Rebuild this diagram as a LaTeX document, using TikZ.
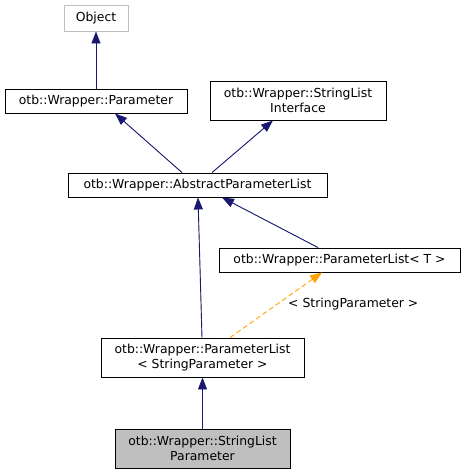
\documentclass[tikz,border=0pt]{standalone}
\usepackage{fontspec}
\setmainfont{DejaVu Sans}
\usetikzlibrary{arrows.meta}
\definecolor{edgeblue}{HTML}{191970}
\definecolor{edgeorange}{HTML}{FFA500}
\definecolor{grayfill}{HTML}{BFBFBF}
\begin{document}
\begin{tikzpicture}[x=1pt,y=-1pt,
  box/.style={draw=black, line width=0.9pt, fill=white, inner sep=0pt, align=center,
    font=\fontsize{12.4}{14.5}\selectfont},
  inh/.style={draw=edgeblue, line width=0.9pt, {Triangle[length=12pt,width=9pt]}-, fill=edgeblue},
  tmpl/.style={draw=edgeorange, line width=0.9pt, dash pattern=on 5pt off 3pt,
    {Triangle[length=12pt,width=9pt,fill=edgeorange]}-},
  lbl/.style={font=\fontsize{12.4}{14.5}\selectfont, inner sep=0pt}]
\useasboundingbox (0,0) rectangle (467,475);
\node[box, draw=grayfill, minimum width=64pt, minimum height=26pt] (obj) at (96,18) {Object};
\node[box, minimum width=182pt, minimum height=24pt] (par) at (96,101) {otb::Wrapper::Parameter};
\node[box, minimum width=176pt, minimum height=39pt] (sli) at (298,100.5) {otb::Wrapper::StringList\\Interface};
\node[box, minimum width=259pt, minimum height=24pt] (abs) at (197.5,185) {otb::Wrapper::AbstractParameterList};
\node[box, minimum width=241pt, minimum height=24pt] (plt) at (339.5,260) {otb::Wrapper::ParameterList< T >};
\node[box, minimum width=203pt, minimum height=39pt] (plsp) at (202.5,357.5) {otb::Wrapper::ParameterList\\< StringParameter >};
\node[box, fill=grayfill, minimum width=175pt, minimum height=39pt] (slp) at (202.5,448.5) {otb::Wrapper::StringList\\Parameter};
\draw[inh] (obj.south) -- (par.north);
\draw[inh] ([xshift=19pt]par.south) -- ([xshift=-15.5pt]abs.north);
\draw[inh] ([xshift=-25pt]sli.south) -- ([xshift=14.5pt]abs.north);
\draw[inh] ([xshift=24.5pt]abs.south) -- ([xshift=-21.5pt]plt.north);
\draw[inh] ([xshift=0.5pt]abs.south) -- ([xshift=-0.5pt]plsp.north);
\draw[tmpl] ([xshift=-17.5pt]plt.south) -- ([xshift=27.5pt]plsp.north);
\node[lbl, anchor=base west] (tl) at (288,307) {< StringParameter >};
\draw[inh] (plsp.south) -- (slp.north);
\end{tikzpicture}
\end{document}
